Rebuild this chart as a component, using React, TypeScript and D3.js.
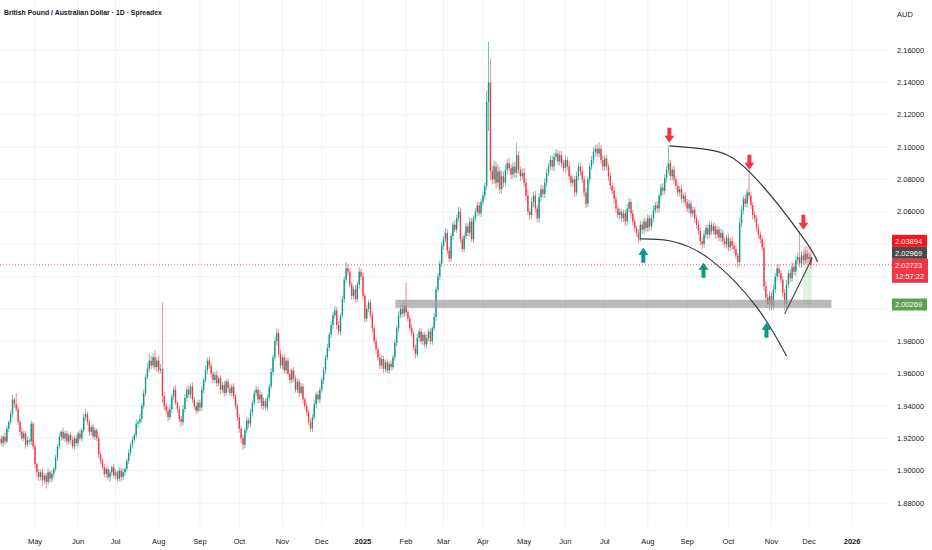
import React from "react";
import * as d3 from "d3";

const TITLE = "British Pound / Australian Dollar · 1D · Spreadex";
const CURRENCY = "AUD";
const START = new Date(2024, 3, 4);
const FIRST_OPEN = 19180;

// daily closes in pips (price * 10000)
const closes = [
  19195,19170,19210,19180,19260,19300,19350,19440,19410,19380,
  19300,19240,19200,19230,19160,19190,19180,19290,19150,19040,
  18990,18960,18990,18940,18970,18930,18990,18950,18980,19010,
  19080,19150,19210,19240,19200,19230,19180,19220,19190,19150,
  19200,19170,19230,19200,19250,19330,19350,19300,19240,19270,
  19210,19250,19200,19100,19060,19020,18980,19010,18960,18990,
  19020,18970,18990,18950,19000,18960,18990,19010,19060,19110,
  19160,19190,19220,19290,19300,19320,19400,19480,19580,19630,
  19680,19650,19700,19640,19680,19620,19630,19460,19400,19370,
  19330,19380,19460,19500,19420,19380,19320,19300,19380,19450,
  19500,19470,19520,19440,19400,19370,19420,19390,19500,19560,
  19620,19680,19650,19600,19560,19590,19540,19570,19500,19530,
  19480,19550,19510,19480,19520,19460,19400,19330,19260,19200,
  19160,19250,19310,19290,19360,19420,19480,19500,19440,19470,
  19400,19430,19390,19450,19520,19610,19700,19800,19850,19720,
  19650,19700,19620,19680,19600,19560,19620,19570,19500,19550,
  19480,19520,19440,19400,19360,19300,19260,19330,19410,19470,
  19440,19500,19560,19620,19700,19760,19840,19900,19960,19990,
  19900,19860,19960,20060,20180,20250,20230,20150,20080,20120,
  20060,20150,20230,20200,20080,19940,20000,20040,19960,19880,
  19800,19750,19700,19650,19690,19630,19670,19620,19660,19640,
  19700,19790,19880,19960,20000,19970,20020,19980,19940,19880,
  19850,19760,19720,19820,19860,19800,19840,19780,19820,19860,
  19800,19880,19950,20120,20200,20280,20390,20430,20470,20360,
  20310,20450,20520,20490,20560,20600,20430,20370,20450,20510,
  20470,20540,20430,20560,20600,20640,20590,20660,20700,20760,
  21280,21400,20850,20800,20880,20780,20850,20740,20820,20780,
  20860,20900,20870,20830,20880,20840,20950,20860,20820,20840,
  20780,20700,20600,20580,20660,20700,20620,20560,20690,20740,
  20710,20780,20840,20880,20920,20880,20940,20960,20910,20950,
  20900,20870,20920,20880,20820,20780,20800,20720,20820,20880,
  20850,20800,20720,20650,20800,20880,20920,20970,20990,20960,
  20990,20920,20880,20930,20880,20820,20760,20730,20680,20620,
  20580,20600,20560,20590,20540,20620,20660,20590,20540,20500,
  20470,20440,20520,20490,20540,20500,20560,20510,20560,20610,
  20640,20620,20700,20750,20730,20810,20860,20900,20820,20860,
  20800,20760,20720,20740,20680,20700,20660,20620,20650,20590,
  20610,20560,20520,20480,20420,20400,20460,20500,20460,20520,
  20480,20510,20460,20490,20440,20470,20420,20400,20440,20380,
  20420,20390,20370,20330,20290,20530,20610,20680,20650,20720,
  20700,20640,20580,20560,20500,20460,20430,20380,20140,20070,
  20030,20080,20020,20120,20200,20250,20220,20180,20100,20030,
  20150,20220,20190,20260,20230,20300,20320,20280,20330,20300,
  20340,20310,20320,20272,
];

// upper wick length in pips
const wickUp = [
  15,20,12,25,18,10,22,30,14,70, 20,12,25,18,15,22,10,20,14,18,
  12,20,16,22,14,18,25,12,20,15, 18,14,22,10,25,16,20,12,18,22,
  14,20,12,25,18,22,30,15,20,12, 22,16,12,20,15,18,24,12,20,16,
  14,22,18,12,20,16,25,14,18,22, 16,20,14,25,12,30,18,22,15,35,
  40,30,25,45,20,30,28,410,25,18, 22,30,15,20,28,12,20,18,25,22,
  18,30,20,25,15,22,18,20,25,14, 30,20,25,18,15,22,28,14,20,18,
  25,15,20,22,18,20,14,18,22,16, 20,15,25,18,22,14,20,25,18,30,
  15,22,18,20,14,25,18,20,30,22, 28,18,22,15,20,25,14,22,18,20,
  15,22,18,14,20,16,22,18,25,14, 22,18,15,20,14,25,18,22,20,28,
  20,25,15,22,18,40,25,20,18,22, 25,18,30,20,22,18,25,15,20,22,
  18,20,15,22,25,18,14,20,16,22, 15,22,18,25,20,28,22,140,18,20,
  22,15,20,25,18,22,16,20,25,18, 20,15,25,18,22,20,25,18,30,22,
  25,18,20,28,22,30,25,20,18,22, 20,28,22,18,25,20,22,18,25,20,
  70,250,150,40,35,30,45,28,35,30, 32,25,35,20,28,30,80,25,20,28,
  30,25,35,20,28,25,30,22,25,28, 22,28,25,20,30,25,22,28,20,25,
  25,20,28,22,30,18,25,20,28,22, 22,28,20,25,18,22,25,30,22,28,
  40,22,28,20,25,18,22,20,25,18, 20,25,18,22,20,28,25,18,22,20,
  18,22,25,18,22,20,25,18,22,28, 20,25,18,22,28,20,25,110,22,20,
  25,18,22,20,25,18,22,20,25,18, 22,20,18,25,20,22,25,18,22,20,
  20,25,18,22,20,25,18,22,20,25, 18,22,20,25,18,30,25,20,28,22,
  140,25,20,22,18,25,20,22,30,25, 22,28,25,30,22,28,25,20,22,25,
  28,22,25,30,22,25,28,160,30,25, 28,22,25,20,
];

// lower wick length in pips
const wickDn = [
  20,15,25,18,12,20,15,18,22,14, 18,22,15,20,25,14,18,22,20,25,
  30,25,20,35,22,40,18,25,20,22, 15,20,18,25,14,22,20,18,25,15,
  22,18,25,14,20,15,22,18,25,20, 15,22,18,25,20,14,22,25,18,30,
  22,18,25,20,15,28,18,22,15,20, 18,22,15,20,25,14,22,18,20,15,
  22,25,18,20,30,22,18,40,25,20, 25,18,22,20,15,25,22,30,18,20,
  22,18,25,20,22,18,15,25,20,22, 18,22,20,25,18,20,22,18,25,20,
  22,18,25,20,22,18,20,22,25,30, 30,22,18,25,20,22,18,20,25,22,
  20,25,18,22,20,18,22,20,25,22, 18,22,20,25,18,22,20,25,18,22,
  22,18,25,20,22,20,20,22,18,25, 20,22,18,25,20,18,22,20,25,18,
  25,20,22,18,25,20,22,18,25,20, 22,18,25,20,22,25,18,22,20,25,
  20,25,18,22,20,25,22,18,20,22, 18,22,20,25,18,22,20,25,18,22,
  22,20,25,18,22,20,25,18,22,20, 20,22,18,25,20,22,18,25,20,22,
  22,20,25,18,22,20,25,20,22,18, 20,25,18,22,20,25,18,22,20,25,
  25,180,50,30,28,35,30,25,30,28, 25,30,22,28,25,30,28,25,30,22,
  25,30,22,28,25,30,22,25,30,28, 22,25,28,20,25,22,28,25,22,25,
  25,22,28,25,22,28,25,30,22,25, 28,22,25,28,22,25,22,25,28,22,
  25,22,28,25,22,28,25,22,28,25, 22,28,25,22,28,25,22,28,25,22,
  25,30,22,25,28,22,25,28,22,25, 22,25,28,22,25,22,28,25,22,28,
  25,22,28,25,22,28,25,22,28,25, 22,28,25,22,28,30,22,25,28,22,
  25,22,28,25,22,28,25,22,28,25, 22,25,28,22,40,22,25,28,22,25,
  25,22,28,25,22,28,25,22,30,28, 25,40,28,25,22,28,25,22,28,40,
  25,22,28,25,22,28,25,22,28,25, 22,28,25,20,
];

const priceTicks = [1.88, 1.9, 1.92, 1.94, 1.96, 1.98, 2.0, 2.02, 2.04, 2.06, 2.08, 2.1, 2.12, 2.14, 2.16];

// drawings (bar index, price)
const upperArc: [number, number][] = [[357.5, 2.1008], [378.9, 2.0983], [400.2, 2.0847], [428.5, 2.0445], [436.5, 2.0291]];
const lowerArc: [number, number][] = [[341.5, 2.0433], [357.5, 2.0421], [378.9, 2.0309], [404, 2.0012], [420, 1.9709]];
const riseLine: [number, number][] = [[419, 1.9969], [433.8, 2.0316]];
const downArrows: [number, number][] = [[357.5, 2.1027], [400.2, 2.086], [429, 2.0489]];
const upArrows: [number, number][] = [[343.6, 2.0377], [375.7, 2.0285], [409.3, 1.9914]];
const supportZone = { i0: 211.3, i1: 444, top: 2.0056, bottom: 2.0006 };
const position = { i0: 428.8, i1: 433.6, stop: 2.03894, entry: 2.02969, last: 2.02723, target: 2.00269 };
const countdown = "12:57:22";

const GREEN = "#089981";
const RED = "#f23645";
const FONT = "'Liberation Sans', Arial, sans-serif";

export default function App() {
  const W = 932, H = 550;
  const plotRight = 888;
  const axisTop = 527;
  const x = d3.scaleLinear().domain([19, 432]).range([35, 809]);
  const y = d3.scaleLinear().domain([1.88, 2.16]).range([503, 50]);
  const step = x(1) - x(0);
  const bw = step * 0.72;

  const candles = closes.map((c, i) => {
    const o = i === 0 ? FIRST_OPEN : closes[i - 1];
    const hi = Math.max(o, c) + wickUp[i];
    const lo = Math.min(o, c) - wickDn[i];
    return { i, o: o / 1e4, c: c / 1e4, h: hi / 1e4, l: lo / 1e4 };
  });

  const calendar = d3.timeDay
    .range(START, new Date(2026, 2, 1))
    .filter((d) => d.getDay() !== 0 && d.getDay() !== 6);
  const monthTicks: { i: number; label: string; bold: boolean }[] = [];
  for (let i = 1; i < calendar.length; i++) {
    if (calendar[i].getMonth() !== calendar[i - 1].getMonth()) {
      const d = calendar[i];
      if (x(i) < plotRight - 20) {
        monthTicks.push({
          i,
          label: d.getMonth() === 0 ? String(d.getFullYear()) : d3.timeFormat("%b")(d),
          bold: d.getMonth() === 0,
        });
      }
    }
  }

  const line = d3.line<[number, number]>().x((d) => x(d[0])).y((d) => y(d[1])).curve(d3.curveNatural);
  const straight = d3.line<[number, number]>().x((d) => x(d[0])).y((d) => y(d[1]));

  // price-scale labels, stacked above the live price label
  const lblX = 892, lblW = 35, lblH = 12;
  const liveTop = y(position.last) - 6;
  const liveH = 24;
  const entryTop = liveTop - lblH;
  const stopTop = entryTop - lblH;
  const targetTop = y(position.target) - 6;
  const tagRanges = [
    [stopTop, liveTop + liveH],
    [targetTop, targetTop + lblH + 3],
  ];
  const visibleTicks = priceTicks.filter(
    (p) => !tagRanges.some(([a, b]) => y(p) > a - 4 && y(p) < b + 4)
  );

  const arrowDown = "M-2,-15 L2,-15 L2,-7 L5,-7 L0,0 L-5,-7 L-2,-7 Z";
  const arrowUp = "M-2,15 L2,15 L2,7 L5,7 L0,0 L-5,7 L-2,7 Z";

  return (
    <svg
      width={W}
      height={H}
      style={{ position: "absolute", left: 0, top: 0, background: "#fff" }}
      fontFamily={FONT}
    >
      <rect x={0} y={0} width={W} height={H} fill="#fff" />
      {/* grid */}
      {priceTicks.map((p) => (
        <line key={"h" + p} x1={0} x2={plotRight} y1={y(p)} y2={y(p)} stroke="#eef0f4" strokeWidth={1} />
      ))}
      {monthTicks.map((t) => (
        <line key={"v" + t.i} x1={x(t.i)} x2={x(t.i)} y1={0} y2={axisTop} stroke="#f2f3f6" strokeWidth={1} />
      ))}

      {/* candles */}
      {candles.map((d) => {
        const col = d.c >= d.o ? GREEN : RED;
        const cx = x(d.i);
        const top = y(Math.max(d.o, d.c));
        const bot = y(Math.min(d.o, d.c));
        return (
          <g key={d.i}>
            <line x1={cx} x2={cx} y1={y(d.h)} y2={y(d.l)} stroke={col} strokeWidth={0.7} opacity={0.85} />
            <rect x={cx - bw / 2} y={top} width={bw} height={Math.max(0.8, bot - top)} fill={col} />
          </g>
        );
      })}

      {/* position tool */}
      <rect
        x={x(position.i0)}
        y={y(position.stop)}
        width={x(position.i1) - x(position.i0)}
        height={y(position.last) - y(position.stop)}
        fill="rgba(242,54,69,0.2)"
      />
      <rect
        x={x(position.i0)}
        y={y(position.last)}
        width={x(position.i1) - x(position.i0)}
        height={y(position.target) - y(position.last)}
        fill="rgba(76,175,80,0.16)"
      />

      {/* support zone */}
      <rect
        x={x(supportZone.i0)}
        y={y(supportZone.top)}
        width={x(supportZone.i1) - x(supportZone.i0)}
        height={y(supportZone.bottom) - y(supportZone.top)}
        fill="#9e9e9e"
        opacity={0.72}
      />

      {/* curves */}
      <path d={line(upperArc) || ""} fill="none" stroke="#363a45" strokeWidth={1.2} />
      <path d={line(lowerArc) || ""} fill="none" stroke="#363a45" strokeWidth={1.2} />
      <path d={straight(riseLine) || ""} fill="none" stroke="#363a45" strokeWidth={1.1} />

      {/* arrows */}
      {downArrows.map((a, k) => (
        <path key={"d" + k} d={arrowDown} fill={RED} transform={`translate(${x(a[0])},${y(a[1])})`} />
      ))}
      {upArrows.map((a, k) => (
        <path key={"u" + k} d={arrowUp} fill={GREEN} transform={`translate(${x(a[0])},${y(a[1])})`} />
      ))}

      {/* live price line */}
      <line
        x1={0}
        x2={lblX}
        y1={y(position.last)}
        y2={y(position.last)}
        stroke={RED}
        strokeWidth={0.8}
        strokeDasharray="1,2"
      />

      {/* title */}
      <text x={4} y={15} fontSize={6.9} fontWeight={700} fill="#131722">
        {TITLE}
      </text>

      {/* price axis */}
      <text x={897} y={17} fontSize={7.5} fill="#131722">
        {CURRENCY}
      </text>
      {visibleTicks.map((p) => (
        <text key={"t" + p} x={897} y={y(p) + 2.7} fontSize={7.5} fill="#131722">
          {p.toFixed(5)}
        </text>
      ))}

      {/* price tags */}
      <rect x={lblX} y={stopTop} width={lblW} height={lblH} fill="#f7141a" />
      <text x={lblX + 3} y={stopTop + 8.8} fontSize={7.5} fill="#fff">{position.stop.toFixed(5)}</text>
      <rect x={lblX} y={entryTop} width={lblW} height={lblH} fill="#4a4a4a" />
      <text x={lblX + 3} y={entryTop + 8.8} fontSize={7.5} fill="#fff">{position.entry.toFixed(5)}</text>
      <rect x={lblX} y={liveTop} width={lblW + 1} height={liveH} fill={RED} />
      <text x={lblX + 3} y={liveTop + 9} fontSize={7.5} fill="#fff">{position.last.toFixed(5)}</text>
      <text x={lblX + 3} y={liveTop + 20} fontSize={7.5} fill="#fff">{countdown}</text>
      <rect x={lblX} y={targetTop} width={lblW} height={lblH} fill="#5f9f4f" />
      <text x={lblX + 3} y={targetTop + 8.8} fontSize={7.5} fill="#fff">{position.target.toFixed(5)}</text>

      {/* time axis */}
      {monthTicks.map((t) => (
        <text
          key={"m" + t.i}
          x={x(t.i)}
          y={544}
          textAnchor="middle"
          fontSize={7.5}
          fontWeight={t.bold ? 700 : 400}
          fill="#131722"
        >
          {t.label}
        </text>
      ))}
    </svg>
  );
}
